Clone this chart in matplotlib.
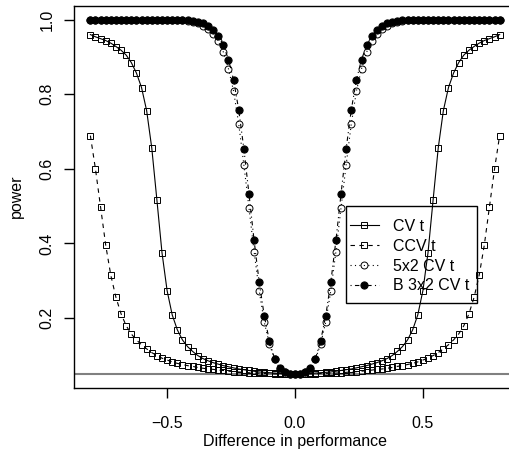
import numpy as np
import matplotlib
matplotlib.use("Agg")
from matplotlib import pyplot as plt
from matplotlib.patches import Rectangle

plt.rcParams['font.family'] = ['Liberation Sans', 'DejaVu Sans']

# difference in performance, -0.8 .. 0.8 in steps of 0.02
diff = np.round(np.arange(-40, 41) * 0.02, 2)

cv_t = [0.960, 0.954, 0.949, 0.944, 0.937, 0.928, 0.918, 0.905, 0.885, 0.857,
        0.818, 0.756, 0.656, 0.517, 0.375, 0.273, 0.208, 0.168, 0.141, 0.123,
        0.110, 0.099, 0.091, 0.085, 0.080, 0.076, 0.072, 0.069, 0.066, 0.063,
        0.061, 0.059, 0.057, 0.055, 0.054, 0.053, 0.052, 0.051, 0.050, 0.050,
        0.050,
        0.050, 0.050, 0.051, 0.052, 0.053, 0.054, 0.055, 0.057, 0.059, 0.061,
        0.063, 0.066, 0.069, 0.072, 0.076, 0.080, 0.085, 0.091, 0.099, 0.110,
        0.123, 0.141, 0.168, 0.208, 0.273, 0.375, 0.517, 0.656, 0.756, 0.818,
        0.857, 0.885, 0.905, 0.918, 0.928, 0.937, 0.944, 0.949, 0.954, 0.960]

ccv_t = [0.689, 0.599, 0.497, 0.395, 0.314, 0.255, 0.211, 0.179, 0.157, 0.141,
         0.128, 0.117, 0.107, 0.099, 0.092, 0.087, 0.082, 0.078, 0.075, 0.072,
         0.070, 0.067, 0.065, 0.063, 0.062, 0.060, 0.059, 0.057, 0.056, 0.055,
         0.054, 0.053, 0.052, 0.052, 0.051, 0.051, 0.050, 0.050, 0.050, 0.050,
         0.050,
         0.050, 0.050, 0.050, 0.050, 0.051, 0.051, 0.052, 0.052, 0.053, 0.054,
         0.055, 0.056, 0.057, 0.059, 0.060, 0.062, 0.063, 0.065, 0.067, 0.070,
         0.072, 0.075, 0.078, 0.082, 0.087, 0.092, 0.099, 0.107, 0.117, 0.128,
         0.141, 0.157, 0.179, 0.211, 0.255, 0.314, 0.395, 0.497, 0.599, 0.689]

cv5x2_t = [1.000, 1.000, 1.000, 1.000, 1.000, 1.000, 1.000, 1.000, 1.000, 1.000,
           1.000, 1.000, 1.000, 1.000, 1.000, 1.000, 1.000, 0.999, 0.998, 0.996,
           0.994, 0.990, 0.984, 0.975, 0.962, 0.942, 0.913, 0.868, 0.808, 0.720,
           0.611, 0.496, 0.378, 0.273, 0.188, 0.130, 0.089, 0.064, 0.054, 0.050,
           0.050,
           0.050, 0.054, 0.064, 0.089, 0.130, 0.188, 0.273, 0.378, 0.496, 0.611,
           0.720, 0.808, 0.868, 0.913, 0.942, 0.962, 0.975, 0.984, 0.990, 0.994,
           0.996, 0.998, 0.999, 1.000, 1.000, 1.000, 1.000, 1.000, 1.000, 1.000,
           1.000, 1.000, 1.000, 1.000, 1.000, 1.000, 1.000, 1.000, 1.000, 1.000]

b3x2_t = [1.000, 1.000, 1.000, 1.000, 1.000, 1.000, 1.000, 1.000, 1.000, 1.000,
          1.000, 1.000, 1.000, 1.000, 1.000, 1.000, 1.000, 1.000, 0.999, 0.998,
          0.997, 0.994, 0.990, 0.984, 0.973, 0.957, 0.931, 0.893, 0.838, 0.758,
          0.654, 0.533, 0.408, 0.296, 0.205, 0.138, 0.091, 0.065, 0.055, 0.050,
          0.050,
          0.050, 0.055, 0.065, 0.091, 0.138, 0.205, 0.296, 0.408, 0.533, 0.654,
          0.758, 0.838, 0.893, 0.931, 0.957, 0.973, 0.984, 0.990, 0.994, 0.997,
          0.998, 0.999, 1.000, 1.000, 1.000, 1.000, 1.000, 1.000, 1.000, 1.000,
          1.000, 1.000, 1.000, 1.000, 1.000, 1.000, 1.000, 1.000, 1.000, 1.000]

alpha_level = 0.05
labels = ["CV t", "CCV t", "5x2 CV t", "B 3x2 CV t"]

fs = 11.5
fig = plt.figure(figsize=(5.1, 4.53), dpi=100)
ax = fig.add_axes([74 / 510, 65 / 453, 442 / 510, 382.5 / 453])

ax.axhline(alpha_level, color="0.5", lw=1.5, zorder=1)

ms = 4.6
ax.plot(diff, cv_t, "-", color="black", lw=0.8, marker="s", ms=ms,
        mfc="none", mec="black", mew=0.7, label=labels[0])
ax.plot(diff, ccv_t, color="black", lw=0.8, ls=(0, (4, 4)), marker="s", ms=ms,
        mfc="none", mec="black", mew=0.7, label=labels[1])
ax.plot(diff, cv5x2_t, color="black", lw=0.8, ls=(0, (1, 3)), marker="o", ms=5,
        mfc="none", mec="black", mew=0.7, label=labels[2])
ax.plot(diff, b3x2_t, color="black", lw=0.8, ls=(0, (1, 3, 4, 3)), marker="o",
        ms=5.2, mfc="black", mec="black", mew=0.7, label=labels[3])

ax.set_xlim(-0.864, 0.864)
ax.set_ylim(0.012, 1.038)
ax.set_xticks([-0.5, 0.0, 0.5])
ax.set_xticklabels(["\u22120.5", "0.0", "0.5"])
ax.set_yticks([0.2, 0.4, 0.6, 0.8, 1.0])
ax.set_yticklabels(["0.2", "0.4", "0.6", "0.8", "1.0"], rotation=90, va="center")
ax.tick_params(direction="out", length=7, width=1, labelsize=fs)
ax.tick_params(axis="x", pad=13)
ax.tick_params(axis="y", pad=7)
for s in ax.spines.values():
    s.set_linewidth(1)

ax.set_xlabel("Difference in performance", fontsize=fs, labelpad=2)
ax.set_ylabel("power", fontsize=fs, labelpad=11)

# legend box like R: frame drawn separately, no fill
leg = ax.legend(loc="upper left", bbox_to_anchor=(0.624, 0.442), borderaxespad=0,
                borderpad=0, fontsize=fs, numpoints=1, handlelength=1.8,
                handletextpad=0.9, labelspacing=0.3, frameon=False)
ax.add_patch(Rectangle((0.6154, 0.2222), 0.2964, 0.2536, transform=ax.transAxes,
                       fill=False, edgecolor="black", lw=1, zorder=5))

fig.savefig("out.png", dpi=100)
